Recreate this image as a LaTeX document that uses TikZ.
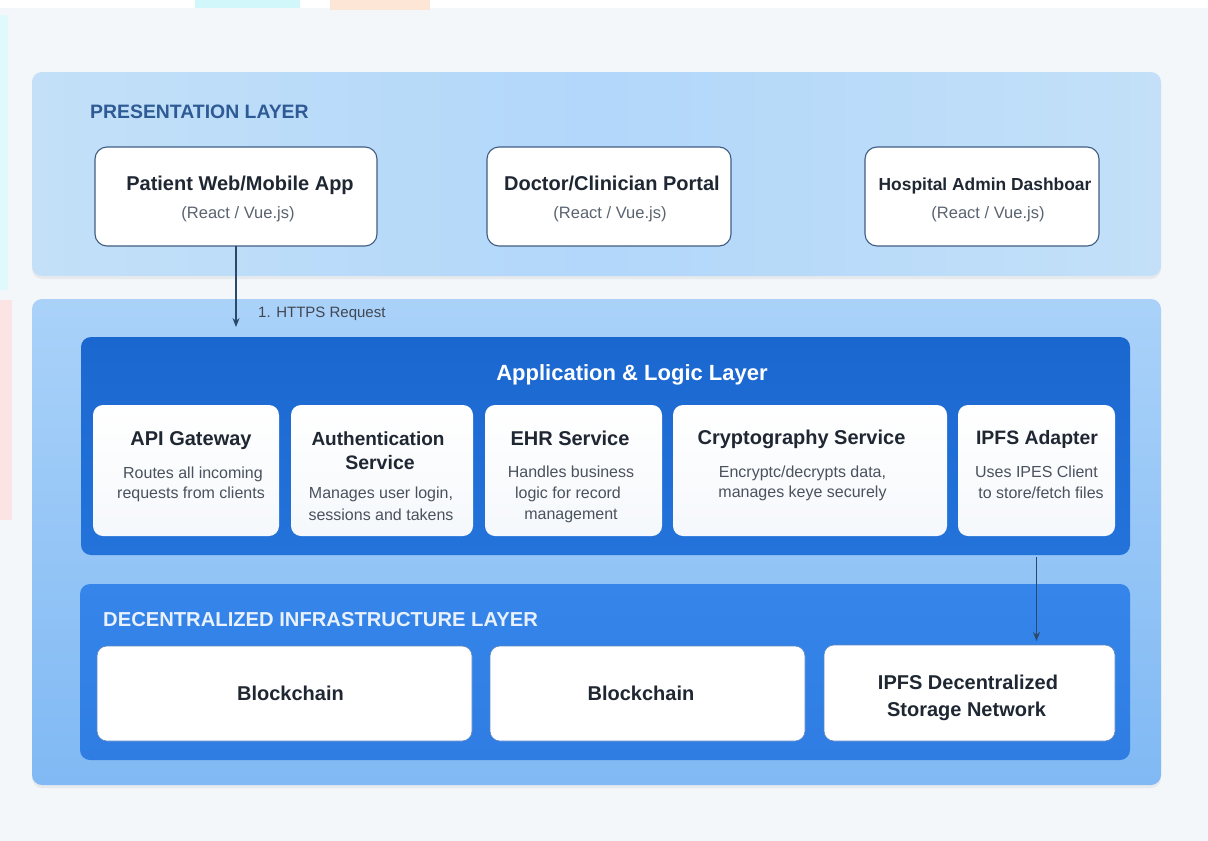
\documentclass[tikz,border=0pt]{standalone}
\usepackage{fontspec}
\setmainfont{Liberation Sans}
\usetikzlibrary{arrows.meta,shadows}
\definecolor{bgc}{HTML}{F4F7FA}
\definecolor{presA}{HTML}{C3E0F8}
\definecolor{presB}{HTML}{B2D7FA}
\definecolor{midTop}{HTML}{AAD2F9}
\definecolor{midBot}{HTML}{80B9F4}
\definecolor{appTop}{HTML}{1B67D0}
\definecolor{appBot}{HTML}{2373DB}
\definecolor{infTop}{HTML}{3585EA}
\definecolor{infBot}{HTML}{2F7DE2}
\definecolor{boxline}{HTML}{3F5D82}
\definecolor{ibline}{HTML}{5A86C2}
\definecolor{svcfill}{HTML}{F5F8FC}
\definecolor{ink}{HTML}{1F2733}
\definecolor{subink}{HTML}{5A6370}
\definecolor{descink}{HTML}{4A525E}
\definecolor{layerink}{HTML}{2E5B95}
\definecolor{infink}{HTML}{E8F1FD}
\definecolor{arrowc}{HTML}{2B4968}
\definecolor{cyanpatch}{HTML}{D2F7FB}
\definecolor{peachpatch}{HTML}{FDE6D6}
\definecolor{pinkpatch}{HTML}{FCE4E4}
\begin{document}
\begin{tikzpicture}[x=1pt,y=-1pt,
  panelbox/.style={rounded corners=10pt, draw=none, inner sep=0pt, outer sep=0pt},
  pbox/.style={rounded corners=12pt, fill=white, draw=boxline, line width=1.1pt, inner sep=0pt, outer sep=0pt},
  sbox/.style={rounded corners=10pt, top color=white, bottom color=svcfill, draw=none, inner sep=0pt, outer sep=0pt},
  ibox/.style={rounded corners=10pt, fill=white, draw=ibline, line width=0.6pt, inner sep=0pt, outer sep=0pt},
  ttl/.style={font=\fontsize{20}{24}\selectfont\bfseries, text=ink, anchor=base, inner sep=0pt},
  xsub/.style={font=\fontsize{16.5}{20}\selectfont, text=subink, anchor=base, inner sep=0pt},
  xdesc/.style={font=\fontsize{16}{20}\selectfont, text=descink, anchor=base, inner sep=0pt},
  flow/.style={draw=arrowc, line width=1.4pt, -{Stealth[length=9pt,width=7pt]}},
  softshadow/.style={drop shadow={shadow xshift=0pt, shadow yshift=-3pt, opacity=0.05, fill=black}}
]
\useasboundingbox (0,0) rectangle (1208,841);
% background
\fill[bgc] (0,0) rectangle (1208,841);
\fill[white] (0,0) rectangle (1208,8);
\fill[cyanpatch] (195,0) rectangle (300,8);
\fill[peachpatch] (330,0) rectangle (430,10);
\fill[cyanpatch!70!white] (0,15) rectangle (8,290);
\fill[pinkpatch] (0,300) rectangle (12,520);

% layer panels
\node[panelbox, softshadow, left color=presA, right color=presA, middle color=presB,
      minimum width=1129, minimum height=204] (pres) at (596.5,174) {};
\node[panelbox, softshadow, top color=midTop, bottom color=midBot,
      minimum width=1129, minimum height=486] (mid) at (596.5,542) {};
\node[panelbox, top color=appTop, bottom color=appBot,
      minimum width=1049, minimum height=218] (app) at (605.5,446) {};
\node[panelbox, top color=infTop, bottom color=infBot,
      minimum width=1050, minimum height=176] (infra) at (605,672) {};

% presentation layer
\node[anchor=base west, inner sep=0pt, font=\fontsize{19.4}{23}\selectfont\bfseries, text=layerink] (presT) at (90,118.5) {PRESENTATION LAYER};
\node[pbox, minimum width=282, minimum height=99] (patient) at (236,196.5) {};
\node[pbox, minimum width=244, minimum height=99] (doctor) at (609,196.5) {};
\node[pbox, minimum width=234, minimum height=99] (hospital) at (982,196.5) {};
\node[ttl] (patientT) at (240,190) {Patient Web/Mobile App};
\node[xsub] (patientS) at (238,218) {(React / Vue.js)};
\node[ttl] (doctorT) at (612,190) {Doctor/Clinician Portal};
\node[xsub] (doctorS) at (610,218) {(React / Vue.js)};
\node[ttl, font=\fontsize{17.4}{21}\selectfont\bfseries] (hospitalT) at (985,190) {Hospital Admin Dashboar};
\node[xsub] (hospitalS) at (988,218) {(React / Vue.js)};

% application layer
\node[anchor=base, inner sep=0pt, font=\fontsize{22}{26}\selectfont\bfseries, text=white] (appT) at (632,380) {Application \& Logic Layer};
\node[sbox, minimum width=186, minimum height=131] (api) at (186,470.5) {};
\node[sbox, minimum width=182, minimum height=131] (auth) at (382,470.5) {};
\node[sbox, minimum width=177, minimum height=131] (ehr) at (573.5,470.5) {};
\node[sbox, minimum width=274, minimum height=131] (crypto) at (810,470.5) {};
\node[sbox, minimum width=157, minimum height=131] (ipfsad) at (1036.5,470.5) {};

\node[ttl] (apiT) at (191,445) {API Gateway};
\node[xdesc] (apiD1) at (193,478) {Routes all incoming};
\node[xdesc] (apiD2) at (191,498) {requests from clients};

\node[ttl, font=\fontsize{19}{23}\selectfont\bfseries] (authT1) at (378,445) {Authentication};
\node[ttl, font=\fontsize{19.5}{23}\selectfont\bfseries] (authT2) at (380,469) {Service};
\node[xdesc] (authD1) at (381,498) {Manages user login,};
\node[xdesc] (authD2) at (381,520) {sessions and takens};

\node[ttl] (ehrT) at (570,445) {EHR Service};
\node[xdesc] (ehrD1) at (571,477) {Handles business};
\node[xdesc] (ehrD2) at (568,498) {logic for record};
\node[xdesc] (ehrD3) at (571,519) {management};

\node[ttl] (cryptoT) at (801.5,444) {Cryptography Service};
\node[xdesc] (cryptoD1) at (802.5,477) {Encryptc/decrypts data,};
\node[xdesc] (cryptoD2) at (802.5,497) {manages keye securely};

\node[ttl, font=\fontsize{19.4}{23}\selectfont\bfseries] (ipfsadT) at (1037,444) {IPFS Adapter};
\node[xdesc] (ipfsadD1) at (1036.5,477) {Uses IPES Client};
\node[xdesc] (ipfsadD2) at (1041,498) {to store/fetch files};

% infrastructure layer
\node[anchor=base west, inner sep=0pt, font=\fontsize{20.2}{24}\selectfont\bfseries, text=infink] (infraT) at (103,626) {DECENTRALIZED INFRASTRUCTURE LAYER};
\node[ibox, minimum width=375, minimum height=95] (chainA) at (284.5,693.5) {};
\node[ibox, minimum width=315, minimum height=95] (chainB) at (647.5,693.5) {};
\node[ibox, minimum width=291, minimum height=96] (ipfsst) at (969.5,693) {};
\node[ttl] (chainAT) at (290.5,700) {Blockchain};
\node[ttl] (chainBT) at (641,700) {Blockchain};
\node[ttl] (ipfsstT1) at (968,689) {IPFS Decentralized};
\node[ttl] (ipfsstT2) at (966.5,716) {Storage Network};

% connectors
\draw[flow] (patient.south) -- ([yshift=10pt]patient.south |- app.north);
\node[anchor=base west, inner sep=0pt, font=\fontsize{15}{18}\selectfont, text=ink!85!white] (httpsL) at (258,317) {1. HTTPS Request};
\draw[flow] ([yshift=-2pt]ipfsad.south |- app.south) -- ([yshift=4pt]ipfsad.south |- ipfsst.north);
\end{tikzpicture}
\end{document}
